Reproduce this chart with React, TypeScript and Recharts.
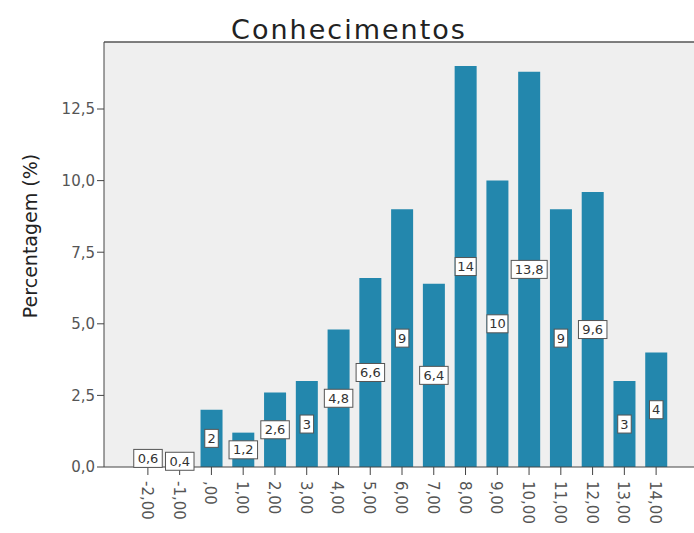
import { BarChart, Bar, XAxis, YAxis, CartesianGrid, LabelList, ReferenceLine } from 'recharts';

const categories = ['-2,00', '-1,00', ',00', '1,00', '2,00', '3,00', '4,00', '5,00', '6,00', '7,00', '8,00', '9,00', '10,00', '11,00', '12,00', '13,00', '14,00'];
const percentages = [0.6, 0.4, 2, 1.2, 2.6, 3, 4.8, 6.6, 9, 6.4, 14, 10, 13.8, 9, 9.6, 3, 4];
const yTicks = [0, 2.5, 5, 7.5, 10, 12.5];

const data = categories.map((cat, i) => ({ cat, pct: percentages[i] }));

const FONT = '"DejaVu Sans", sans-serif';
const Y_MAX = 14.84;

const fmtComma = (v: number) => String(v).replace('.', ',');
const fmtTick = (v: number) => v.toFixed(1).replace('.', ',');

function XTick({ x, y, payload }: any) {
    return (
        <text
            transform={`translate(${x - 6},${y + 4}) rotate(90)`}
            textAnchor="start"
            fontSize={15}
            fill="#555"
            fontFamily={FONT}
        >
            {payload.value}
        </text>
    );
}

function BoxLabel(props: any) {
    const { x, y, width, height, value } = props;
    const txt = fmtComma(value);
    const w = txt.length * 7.5 + 6;
    const h = 18;
    const cx = x + width / 2;
    const cy = y + height / 2;
    return (
        <g>
            <rect x={cx - w / 2} y={cy - h / 2} width={w} height={h} fill="#fff" stroke="#555" strokeWidth={1} />
            <text x={cx} y={cy + 1} textAnchor="middle" dominantBaseline="middle" fontSize={13} fill="#333" fontFamily={FONT}>
                {txt}
            </text>
        </g>
    );
}

export default function App() {
    return (
        <div style={{ position: 'fixed', left: 0, top: 0, width: 694, height: 533, overflow: 'hidden', background: '#fff' }}>
            <div style={{ position: 'absolute', left: 0, width: 698, top: 15, textAlign: 'center', fontFamily: FONT, fontSize: 27, color: '#222', letterSpacing: 2, lineHeight: '30px' }}>
                Conhecimentos
            </div>
            <div
                style={{
                    position: 'absolute',
                    left: 30,
                    top: 236,
                    transform: 'translate(-50%, -50%) rotate(-90deg)',
                    whiteSpace: 'nowrap',
                    fontFamily: FONT,
                    fontSize: 19,
                    color: '#222',
                }}
            >
                Percentagem (%)
            </div>
            <BarChart width={700} height={533} data={data} margin={{ top: 42, right: 0, bottom: 0, left: 0 }}>
                <CartesianGrid horizontal={false} vertical={false} fill="#efefef" />
                <XAxis
                    dataKey="cat"
                    height={66}
                    padding={{ left: 28, right: 28 }}
                    tick={<XTick />}
                    tickLine={{ stroke: '#444' }}
                    tickSize={8}
                    axisLine={{ stroke: '#444' }}
                    interval={0}
                />
                <YAxis
                    width={104}
                    domain={[0, Y_MAX]}
                    ticks={yTicks}
                    tickFormatter={fmtTick}
                    tick={{ fontSize: 15, fill: '#555', fontFamily: FONT }}
                    tickLine={{ stroke: '#444' }}
                    tickSize={7}
                    axisLine={{ stroke: '#444' }}
                    allowDataOverflow
                />
                <ReferenceLine y={Y_MAX} stroke="#555" strokeWidth={1.5} />
                <Bar dataKey="pct" fill="#2387ad" barSize={22} isAnimationActive={false}>
                    <LabelList dataKey="pct" content={<BoxLabel />} />
                </Bar>
            </BarChart>
        </div>
    );
}
